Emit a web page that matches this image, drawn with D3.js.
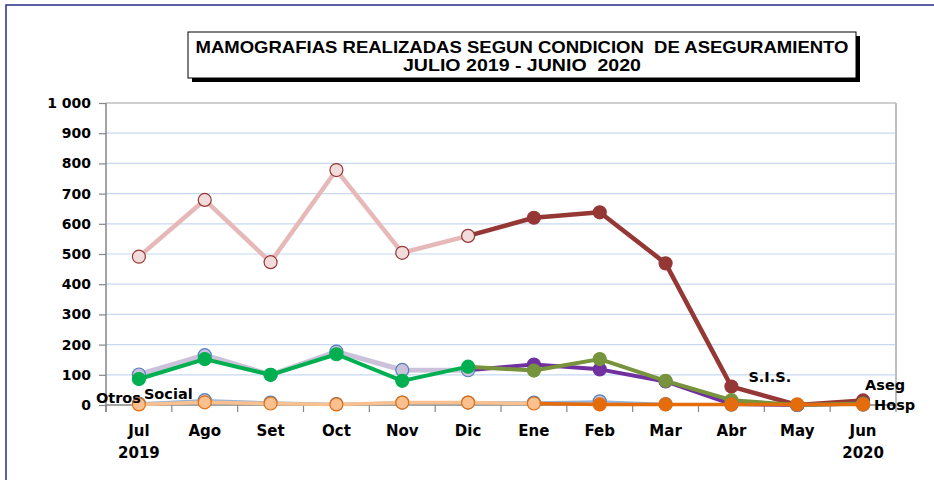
<!DOCTYPE html>
<html>
<head>
<meta charset="utf-8">
<script src="https://cdn.jsdelivr.net/npm/d3@7"></script>
<style>
  html, body { margin: 0; padding: 0; background: #fff; }
  svg { display: block; }
  .ttl { white-space: pre; }
</style>
</head>
<body>
<svg id="chart" width="934" height="480"></svg>
<script>
// ---------- DATA ----------
const categories = ["Jul","Ago","Set","Oct","Nov","Dic","Ene","Feb","Mar","Abr","May","Jun"];
const yearLabels = ["2019","","","","","","","","","","","2020"];
const yTicks = [0,100,200,300,400,500,600,700,800,900,1000];
const yTickLabels = ["0","100","200","300","400","500","600","700","800","900","1 000"];

const sisValues    = [491, 679, 473, 778, 504, 560, 620, 638, 469, 61, 0, 15];
const asegValues   = [101, 165, 100, 177, 116, 115, 134, 118, 78, 3, 0, 5];
const greenValues  = [86, 152, 100, 168, 80, 127, 114, 152, 80, 16, 0, 5];
const otrosValues  = [5, 16, 8, 3, 8, 8, 8, 12, 3, 1, 0, 1];
const orangeValues = [2, 9, 5, 2, 8, 8, 5, 2, 2, 2, 2, 2];

const titleLines = ["MAMOGRAFIAS REALIZADAS SEGUN CONDICION  DE ASEGURAMIENTO", "JULIO 2019 - JUNIO  2020"];

// ---------- STYLES ----------
// split: first index drawn with the "late" style (segment ending at that point uses it too)
const seriesStyles = [
  { values: sisValues, split: 6,
    early: { line: "#e6b9b8", width: 4.5, fill: "#f2dcdb", stroke: "#953735", r: 6.5 },
    late:  { line: "#953735", width: 4.5, fill: "#953735", stroke: "#953735", r: 6.5 } },
  { values: asegValues, split: 6,
    early: { line: "#ccc1da", width: 5, fill: "#ccc1da", stroke: "#4f81bd", r: 6.5 },
    late:  { line: "#7030a0", width: 4, fill: "#7030a0", stroke: "#7030a0", r: 6.5 } },
  { values: greenValues, split: 6,
    early: { line: "#00b050", width: 4, fill: "#00b050", stroke: "#00b050", r: 6.5 },
    late:  { line: "#77933c", width: 4, fill: "#77933c", stroke: "#77933c", r: 6.5 } },
  { values: otrosValues, split: 12,
    early: { line: "#95b3d7", width: 2.5, fill: "#ccc1da", stroke: "#4f81bd", r: 6.5 },
    late:  { line: "#95b3d7", width: 2.5, fill: "#ccc1da", stroke: "#4f81bd", r: 6.5 } },
  { values: orangeValues, split: 7,
    early: { line: "#fac090", width: 3.5, fill: "#fac090", stroke: "#e46c0a", r: 6.5 },
    late:  { line: "#e46c0a", width: 3.5, fill: "#e46c0a", stroke: "#e46c0a", r: 6.5 } }
];

// series text labels anchored to a category / value with offsets
const seriesLabels = [
  { text: "Otros",  cat: "Jul", value: 0,  dx: 2,  dy: -2,  anchor: "end" },
  { text: "Social", cat: "Jul", value: 0,  dx: 5,  dy: -6,  anchor: "start" },
  { text: "S.I.S.", cat: "Abr", value: 61, dx: 17, dy: -5,  anchor: "start" },
  { text: "Aseg",   cat: "Jun", value: 15, dx: 2,  dy: -10, anchor: "start" },
  { text: "Hosp",   cat: "Jun", value: 0,  dx: 11, dy: 5,   anchor: "start" }
];

// ---------- LAYOUT ----------
const svg = d3.select("#chart");
const plot = { left: 106, right: 896, top: 103, bottom: 405 };

const x = d3.scaleBand().domain(categories).range([plot.left, plot.right]).paddingInner(0).paddingOuter(0);
const y = d3.scaleLinear().domain([0, 1000]).range([plot.bottom, plot.top]);
const cx = c => x(c) + x.bandwidth() / 2;

// outer frame
svg.append("rect")
  .attr("x", 6).attr("y", 5).attr("width", 1000).attr("height", 600)
  .attr("fill", "none").attr("stroke", "#2b2b85").attr("stroke-width", 1.5);

// title box with shadow
const tb = { x: 188, y: 32, w: 668, h: 46 };
svg.append("rect").attr("x", tb.x + 4).attr("y", tb.y + 4).attr("width", tb.w).attr("height", tb.h).attr("fill", "#000");
svg.append("rect").attr("x", tb.x).attr("y", tb.y).attr("width", tb.w).attr("height", tb.h)
  .attr("fill", "#fff").attr("stroke", "#000").attr("stroke-width", 1);
const titleFont = "'Liberation Sans Narrow', 'Liberation Sans', Arial, sans-serif";
svg.append("text").attr("class", "ttl").attr("x", tb.x + tb.w / 2).attr("y", 52.5)
  .attr("text-anchor", "middle").attr("font-family", titleFont).attr("font-weight", "bold")
  .attr("font-size", 16.5).attr("textLength", 653).attr("lengthAdjust", "spacingAndGlyphs")
  .text(titleLines[0]);
svg.append("text").attr("class", "ttl").attr("x", 522).attr("y", 70.5)
  .attr("text-anchor", "middle").attr("font-family", titleFont).attr("font-weight", "bold")
  .attr("font-size", 16.5).attr("textLength", 238).attr("lengthAdjust", "spacingAndGlyphs")
  .text(titleLines[1]);

// gridlines
svg.append("g").selectAll("line").data(yTicks.filter(d => d > 0 && d < 1000)).join("line")
  .attr("x1", plot.left).attr("x2", plot.right)
  .attr("y1", d => y(d)).attr("y2", d => y(d))
  .attr("stroke", "#c6d9f1").attr("stroke-width", 1.2);

// plot area border (top & right)
svg.append("line").attr("x1", plot.left).attr("x2", plot.right).attr("y1", y(1000)).attr("y2", y(1000))
  .attr("stroke", "#bfbfbf").attr("stroke-width", 1.5);
svg.append("line").attr("x1", plot.right).attr("x2", plot.right).attr("y1", y(1000)).attr("y2", y(0))
  .attr("stroke", "#bfbfbf").attr("stroke-width", 2);

// y axis
const labelFont = "'DejaVu Sans', Verdana, sans-serif";
const yAxis = d3.axisLeft(y).tickValues(yTicks).tickSize(7).tickPadding(8)
  .tickFormat((d, i) => yTickLabels[i]);
const gy = svg.append("g").attr("transform", `translate(${plot.left},0)`).call(yAxis);
gy.select(".domain").attr("stroke", "#868686").attr("stroke-width", 1.5)
  .attr("d", `M0,${plot.top}V${plot.bottom + 7}`);
gy.selectAll(".tick line").attr("stroke", "#868686").attr("stroke-width", 1.2);
gy.selectAll(".tick text").attr("font-family", labelFont).attr("font-weight", "bold")
  .attr("font-size", 14).attr("fill", "#000");

// x axis line and ticks at category boundaries
const gx = svg.append("g");
gx.append("line").attr("x1", plot.left).attr("x2", plot.right).attr("y1", y(0)).attr("y2", y(0))
  .attr("stroke", "#868686").attr("stroke-width", 1.5);
const boundaries = categories.map(c => x(c)).concat([x(categories[categories.length - 1]) + x.bandwidth()]);
gx.selectAll("line.tk").data(boundaries).join("line").attr("class", "tk")
  .attr("x1", d => d).attr("x2", d => d).attr("y1", y(0)).attr("y2", y(0) + 7)
  .attr("stroke", "#868686").attr("stroke-width", 1.2);
gx.selectAll("text.cat").data(categories).join("text").attr("class", "cat")
  .attr("x", d => cx(d)).attr("y", 436).attr("text-anchor", "middle")
  .attr("font-family", labelFont).attr("font-weight", "bold").attr("font-size", 15)
  .text(d => d);
gx.selectAll("text.yr").data(categories.map((c, i) => ({ c, t: yearLabels[i] })).filter(d => d.t)).join("text")
  .attr("class", "yr")
  .attr("x", d => cx(d.c)).attr("y", 458).attr("text-anchor", "middle")
  .attr("font-family", labelFont).attr("font-weight", "bold").attr("font-size", 15)
  .text(d => d.t);

// series
const lineGen = d3.line().x(d => cx(d.c)).y(d => y(d.v));
seriesStyles.forEach(s => {
  const pts = s.values.map((v, i) => ({ c: categories[i], v, i }));
  const g = svg.append("g");
  const early = pts.slice(0, Math.min(s.split, pts.length));
  const late = s.split < pts.length ? pts.slice(s.split - 1) : [];
  g.append("path").datum(early).attr("d", lineGen).attr("fill", "none")
    .attr("stroke", s.early.line).attr("stroke-width", s.early.width).attr("stroke-linejoin", "round");
  if (late.length) {
    g.append("path").datum(late).attr("d", lineGen).attr("fill", "none")
      .attr("stroke", s.late.line).attr("stroke-width", s.late.width).attr("stroke-linejoin", "round");
  }
  g.selectAll("circle").data(pts).join("circle")
    .attr("cx", d => cx(d.c)).attr("cy", d => y(d.v))
    .attr("r", d => (d.i < s.split ? s.early : s.late).r)
    .attr("fill", d => (d.i < s.split ? s.early : s.late).fill)
    .attr("stroke", d => (d.i < s.split ? s.early : s.late).stroke)
    .attr("stroke-width", 1.2);
});

// series labels
svg.append("g").selectAll("text").data(seriesLabels).join("text")
  .attr("x", d => cx(d.cat) + d.dx).attr("y", d => y(d.value) + d.dy)
  .attr("text-anchor", d => d.anchor)
  .attr("font-family", labelFont).attr("font-weight", "bold").attr("font-size", 14.5)
  .attr("fill", "#000")
  .text(d => d.text);
</script>
</body>
</html>
